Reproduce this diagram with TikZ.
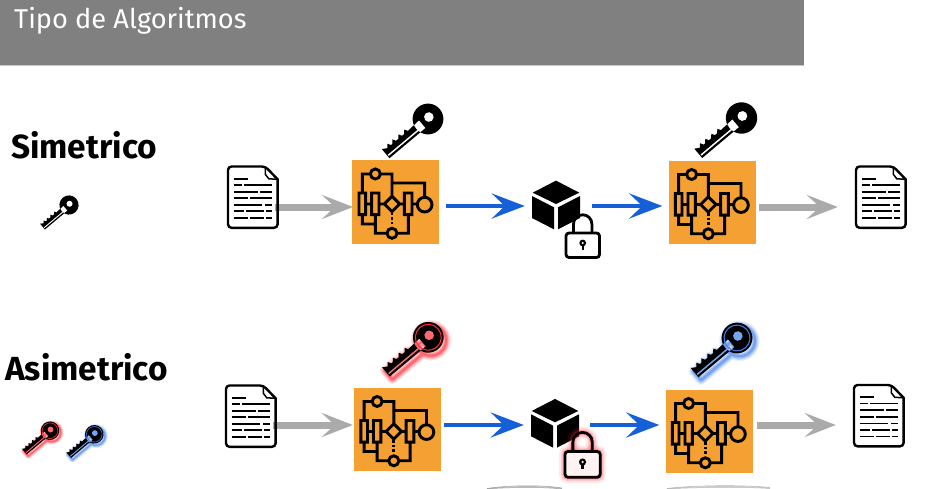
\documentclass[tikz,border=0pt]{standalone}
\usepackage{fontspec}
\setmainfont{Fira Sans}
\usetikzlibrary{arrows.meta}
\definecolor{hdr}{HTML}{808080}
\definecolor{orng}{HTML}{F4A032}
\definecolor{arblue}{HTML}{1560D8}
\definecolor{argray}{HTML}{AAAAAA}
\definecolor{kred}{HTML}{FF2A35}
\definecolor{kblue}{HTML}{3F7FE8}
\tikzset{
  every picture/.append style={x=1pt,y=-1pt},
  blockbox/.style={fill=orng,draw=none,minimum width=87pt,minimum height=83pt,inner sep=0pt},
  docbox/.style={draw=none,minimum width=52pt,minimum height=64pt,inner sep=0pt},
  cubebox/.style={draw=none,minimum width=50pt,minimum height=50pt,inner sep=0pt},
  graylink/.style={draw=argray,line width=7pt,
     -{Stealth[length=31pt,width=24pt,inset=13pt]}},
  bluelink/.style={draw=arblue,line width=4.5pt,shorten <=#1,shorten >=6pt,
     -{Stealth[length=33pt,width=25pt,inset=13pt]}},
  procline/.style={line width=2.9pt,draw=black,line join=miter},
  title/.style={font=\fontsize{33.4}{34}\selectfont\bfseries,inner sep=0pt,anchor=base west},
}
\newcommand\keyshape{(-8,-5) -- (-24,-4) -- (-26,-7.5) -- (-29,-4) -- (-32,-4) -- (-34,-7.5) -- (-37,-4) -- (-40,-4) -- (-42,-7.5) -- (-45,-4) -- (-47,-4) -- (-49,-7.5) -- (-52,-4) -- (-57,-7) -- (-57,5.5) -- (-8,5.5) -- cycle (0,0) circle (16)}
\newcommand\plainkey[3]{%
  \begin{scope}[shift={(#1,#2)},rotate=40,scale=#3]
    \fill[black] \keyshape;
    \draw[white,line width=1.5pt*#3] (-56,2.4) -- (-12,2.4);
    \fill[white] (2,-1) circle (5);
  \end{scope}}
\newcommand\glowkey[4]{%
  \begin{scope}[shift={(#1,#2)},rotate=40,scale=#3]
    \begin{scope}[shift={(0,4)}]
      \foreach \w/\o in {10/.12,7.5/.18,5/.28,2.5/.45}{
        \draw[#4,opacity=\o,line width=\w pt*#3,line join=round] \keyshape;}
    \end{scope}
    \fill[black] \keyshape;
    \draw[#4!70!white,line width=1.5pt*#3] (-56,2.4) -- (-12,2.4);
    \draw[#4,line width=1.1pt*#3] (0,0) circle (13.5);
    \fill[#4!70!white] (2,-1) circle (5);
  \end{scope}}
\newcommand\docicon[1]{%
  \begin{scope}[shift={(#1.north west)}]
    \draw[black,line width=2.4pt,rounded corners=3.5pt]
      (4,1.2) -- (38.5,1.2) [sharp corners] -- (50.8,14) [rounded corners=3.5pt] -- (50.8,62.5) -- (1.2,62.5) -- (1.2,1.2) -- (4,1.2);
    \draw[black,line width=1.5pt] (38.5,1.2) -- (38.5,9) -- (42,13.5) -- (50.8,14);
    \draw[black,line width=1.8pt]
      (6.7,13.3)--(20.7,13.3)
      (6.7,19.7)--(15,19.7) (17.3,19.7)--(45,19.7)
      (6.7,26.3)--(30.7,26.3) (32.7,26.3)--(45,26.3)
      (6.7,33)--(20.7,33) (23.3,33)--(45,33)
      (6.7,39.7)--(35,39.7) (38,39.7)--(45,39.7)
      (6.7,46)--(16.7,46) (19.3,46)--(36.7,46) (39.3,46)--(45,46)
      (6.7,52.7)--(20.7,52.7) (23.3,52.7)--(36.7,52.7) (39.3,52.7)--(45,52.7);
  \end{scope}}
\newcommand\procicon[1]{%
  \begin{scope}[shift={(#1.north west)},scale=.3333,shift={(-7,-17)}]
    \draw[procline]
      (38,115)--(38,58)--(62,58) (92,58)--(127,58)--(127,125)
      (127,85)--(225,85)--(225,128)
      (48,148)--(66,148) (88,148)--(104,148) (150,148)--(164,148) (187,148)--(203,148)
      (38,180)--(38,208)--(77,208)--(77,180)
      (77,208)--(77,236)--(112,236) (142,236)--(176,236)--(176,180)
      (77,58) circle (15) (127,236) circle (15) (225,150) circle (22)
      (28,115) rectangle (48,180) (66,115) rectangle (88,180) (164,115) rectangle (187,180)
      (127,125)--(150,148)--(127,171)--(104,148)--cycle;
    \draw[black,line width=2.9pt,dash pattern=on 2.5pt off 2pt] (127,175)--(127,212);
  \end{scope}}
\newcommand\cubeicon[2]{%
  \begin{scope}[shift={(#1,#2)},scale=.3333,shift={(-108,-105)}]
    \fill[black] (108,32)--(178,68)--(108,102)--(38,68)--cycle;
    \fill[black] (36,78)--(102,112)--(102,178)--(36,144)--cycle;
    \fill[black] (114,112)--(180,78)--(180,144)--(114,178)--cycle;
  \end{scope}}
\newcommand\lockshape{[rounded corners=3pt] (0,0) rectangle (33.5,24.5)}
\newcommand\shackle{(7.5,0) -- (7.5,-9) arc[start angle=180,end angle=360,radius=9.2] -- (25.9,0)}
\newcommand\lockicon[5]{%
  \begin{scope}[shift={(#1,#2)},scale=#3]
    \ifx#4n\else
    \foreach \w/\o in {12/.10,8/.16,5/.22,2.8/.35}{
      \draw[kred,opacity=\o,line width=\w pt] \lockshape;
      \draw[kred,opacity=\o,line width=\w pt] \shackle;}
    \fi
    \fill[#5] \lockshape;
    \draw[black,line width=2.8pt] \shackle;
    \draw[black,line width=2.8pt] \lockshape;
    \fill[black] (16.7,10) circle (3.4);
    \draw[black,line width=2.2pt] (16.7,10) -- (16.7,17);
    \fill[#5] (16.7,10) circle (1.2);
  \end{scope}}
\begin{document}
\begin{tikzpicture}
\useasboundingbox (0,0) rectangle (925,489);
\fill[white] (0,0) rectangle (925,489);
\fill[hdr] (0,0) rectangle (804,65);
\fill[black!22] (0,65) rectangle (804,66.3);
\node[inner sep=0pt,anchor=base west,text=white,font=\fontsize{27.2}{28}\selectfont] (head) at (14,28.5) {Tipo de Algoritmos};
\node[title] (sim) at (11,158.5) {Simetrico};
\node[title] (asim) at (5,380.5) {Asimetrico};

\node[docbox] (d1) at (253,197.5) {};
\node[blockbox] (p1) at (395.7,202) {};
\node[cubebox] (c1) at (556,206) {};
\node[blockbox] (p2) at (712,202.5) {};
\node[docbox] (d2) at (881,197.5) {};
\node[docbox] (d3) at (251,416.5) {};
\node[blockbox] (p3) at (397.5,429.5) {};
\node[cubebox] (c2) at (555,425) {};
\node[blockbox] (p4) at (709,431.5) {};
\node[docbox] (d4) at (879,416) {};
\coordinate (r1) at (0,207);
\coordinate (r2) at (0,425);

\draw[graylink,shorten <=-4pt,shorten >=-1pt] (d1.east |- r1) -- (p1.west |- r1);
\draw[graylink,shorten <=3.5pt,shorten >=17pt] (p2.east |- r1) -- (d2.west |- r1);
\draw[graylink,shorten <=-4pt,shorten >=1pt] (d3.east |- r2) -- (p3.west |- r2);
\draw[graylink,shorten <=4.5pt,shorten >=17pt] (p4.east |- r2) -- (d4.west |- r2);
\draw[bluelink=7pt] (p1.east |- c1) -- (c1.west);
\draw[bluelink=11pt] (c1.east) -- (p2.west |- c1);
\draw[bluelink=3pt] (p3.east |- c2) -- (c2.west);
\draw[bluelink=10pt] (c2.east) -- (p4.west |- c2);

\docicon{d1}\docicon{d2}\docicon{d3}\docicon{d4}
\procicon{p1}\procicon{p2}\procicon{p3}\procicon{p4}
\cubeicon{556}{205}
\cubeicon{555}{423.3}
\lockicon{566}{233}{1}{n}{white}
\lockicon{565}{451.5}{1.05}{r}{kred!6!white}

\plainkey{428}{119}{.96}
\plainkey{741.5}{118}{.98}
\plainkey{69}{205}{.6}
\glowkey{428.3}{337.3}{.96}{kred}
\glowkey{737}{338}{.96}{kblue}
\glowkey{50}{430.7}{.58}{kred}
\glowkey{94.3}{434.3}{.58}{kblue}

\foreach \dy in {0,1,2}{
  \draw[black!40,line width=.5pt] (487,488.5+\dy*.2) .. controls (505,485.5+\dy) and (540,484.5+\dy) .. (562,488+\dy*.5);
  \draw[black!30,line width=.5pt] (667,488.5+\dy*.2) .. controls (690,485.5+\dy) and (740,484.5+\dy) .. (770,487.5+\dy*.5);}
\end{tikzpicture}
\end{document}
